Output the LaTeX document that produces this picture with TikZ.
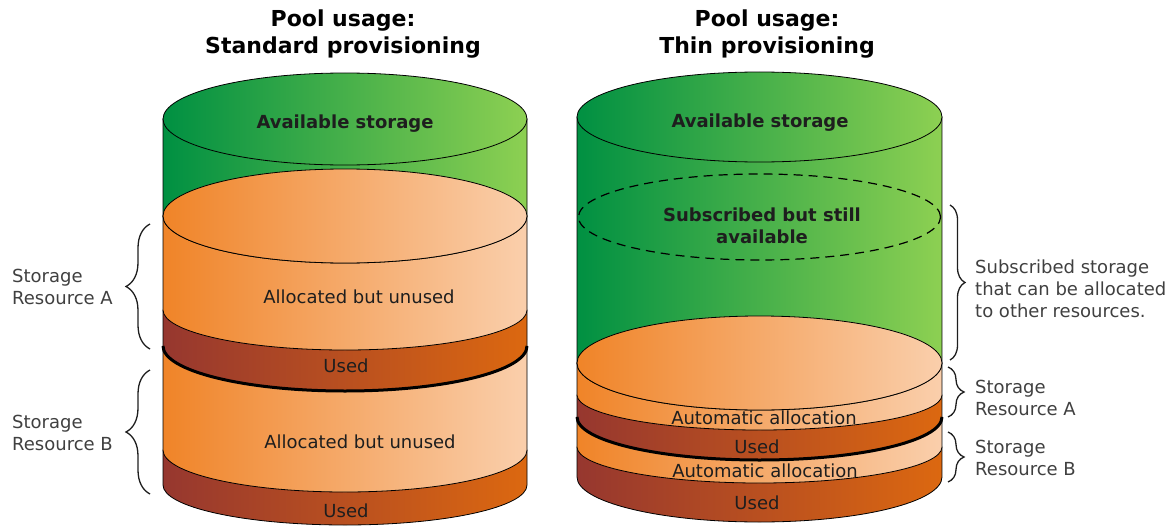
\documentclass[tikz,border=0pt]{standalone}
\usepackage{fontspec}
\setmainfont{DejaVu Sans}
\usetikzlibrary{decorations.pathreplacing}
\definecolor{greenL}{RGB}{0,144,66}
\definecolor{greenR}{RGB}{141,208,82}
\definecolor{orL}{RGB}{240,132,40}
\definecolor{orR}{RGB}{250,207,172}
\definecolor{usL}{RGB}{150,55,47}
\definecolor{usR}{RGB}{220,104,16}
\definecolor{txtdark}{RGB}{30,30,30}
\definecolor{txtgray}{RGB}{64,64,64}
\tikzset{
  green fill/.style={left color=greenL,right color=greenR},
  orange fill/.style={left color=orL,right color=orR},
  used fill/.style={left color=usL,right color=usR},
  outline/.style={draw=black,line width=0.8pt},
  inner text/.style={font=\fontsize{18}{22}\selectfont, text=txtdark, inner sep=0pt, align=center},
  bold text/.style={font=\fontsize{18}{22}\selectfont\bfseries, text=txtdark, inner sep=0pt, align=center},
  side label/.style={font=\fontsize{18}{22}\selectfont, text=txtgray, align=left, anchor=west, inner sep=0pt},
  title/.style={font=\fontsize{22}{27}\selectfont\bfseries, align=center, inner sep=0pt},
  bracestyle/.style={decorate, decoration={brace, amplitude=#1}, line width=1.3pt, draw=txtdark},
  thickarc/.style={line width=3pt, draw=black},
  dashedellipse/.style={draw=black, line width=1.2pt, dash pattern=on 9pt off 6pt},
}
% #1 cx, #2 rx, #3 ytop, #4 ybottom, #5 ry bottom, #6 style
\newcommand{\layerbody}[6]{%
  \path[outline,#6] (#1-#2,-#3) -- (#1-#2,-#4)
    arc[start angle=180,end angle=360,x radius=#2pt,y radius=#5pt] -- (#1+#2,-#3) -- cycle;}
\newcommand{\frontarc}[5]{%
  \path[#5] (#1-#2,-#3) arc[start angle=180,end angle=360,x radius=#2pt,y radius=#4pt];}
\begin{document}
\begin{tikzpicture}[x=1pt,y=1pt]
\useasboundingbox (0,0) rectangle (1175,-527);

% ---------------- Left cylinder: standard provisioning ----------------
\layerbody{345}{182}{450}{485}{40}{used fill}
\layerbody{345}{182}{346}{450}{42}{orange fill}
\layerbody{345}{182}{310}{346}{45}{used fill}
\frontarc{345}{182}{346}{45}{thickarc}
\layerbody{345}{182}{216}{310}{40}{orange fill}
\layerbody{345}{182}{119}{216}{47}{green fill}
\path[outline,orange fill] (345,-216) ellipse [x radius=182pt, y radius=47pt];
\path[outline,green fill] (345,-119) ellipse [x radius=182pt, y radius=46pt];

% ---------------- Right cylinder: thin provisioning ----------------
\layerbody{759.5}{182.5}{447}{477}{45}{used fill}
\layerbody{759.5}{182.5}{417}{447}{36}{orange fill}
\layerbody{759.5}{182.5}{395}{417}{43}{used fill}
\frontarc{759.5}{182.5}{417}{43}{thickarc}
\layerbody{759.5}{182.5}{363}{395}{35}{orange fill}
\layerbody{759.5}{182.5}{117}{363}{47}{green fill}
\path[outline,orange fill] (759.5,-363) ellipse [x radius=182.5pt, y radius=47pt];
\path[dashedellipse] (759.5,-217) ellipse [x radius=181pt, y radius=43pt];
\path[outline,green fill] (759.5,-117) ellipse [x radius=182.5pt, y radius=45pt];

% ---------------- Titles ----------------
\node[title] (t1) at (343,-34) {Pool usage:\\Standard provisioning};
\node[title] (t2) at (767,-34) {Pool usage:\\Thin provisioning};

% ---------------- Texts inside left cylinder ----------------
\node[bold text] (l-av) at (345,-124) {Available storage};
\node[inner text] (l-aa) at (359,-297) {Allocated but unused};
\node[inner text] (l-ua) at (346,-366) {Used};
\node[inner text] (l-ab) at (360,-442) {Allocated but unused};
\node[inner text] (l-ub) at (346,-511) {Used};

% ---------------- Texts inside right cylinder ----------------
\node[bold text] (r-av) at (760,-123) {Available storage};
\node[bold text] (r-sub) at (762,-226) {Subscribed but still\\available};
\node[inner text] (r-aa) at (764,-418) {Automatic allocation};
\node[inner text] (r-ua) at (757,-447) {Used};
\node[inner text] (r-ab) at (765,-471) {Automatic allocation};
\node[inner text] (r-ub) at (757,-503) {Used};

% ---------------- Braces and side labels ----------------
\coordinate (lbA1) at (150,-349);
\coordinate (lbA2) at (150,-224);
\coordinate (lbB1) at (150,-494);
\coordinate (lbB2) at (150,-370);
\draw[bracestyle=24pt] (lbA1) -- (lbA2);
\draw[bracestyle=24pt] (lbB1) -- (lbB2);
\node[side label] (lA) at (12,-286.5) {Storage\\Resource A};
\node[side label] (lB) at (12,-432.5) {Storage\\Resource B};

\coordinate (rbS1) at (950,-205);
\coordinate (rbS2) at (950,-360);
\coordinate (rbA1) at (948,-367);
\coordinate (rbA2) at (948,-417);
\coordinate (rbB1) at (948,-432);
\coordinate (rbB2) at (948,-482);
\draw[bracestyle=15pt] (rbS1) -- (rbS2);
\draw[bracestyle=16pt] (rbA1) -- (rbA2);
\draw[bracestyle=16pt] (rbB1) -- (rbB2);
\node[side label] (rS) at (975,-289) {Subscribed storage\\that can be allocated\\to other resources.};
\node[side label] (rA) at (975,-397.5) {Storage\\Resource A};
\node[side label] (rB) at (975,-458) {Storage\\Resource B};
\end{tikzpicture}
\end{document}
